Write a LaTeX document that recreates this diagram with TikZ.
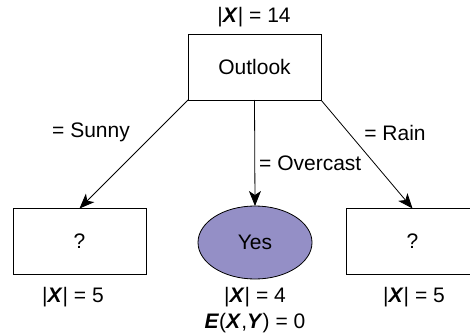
\documentclass[tikz,border=0pt]{standalone}
\usepackage{fontspec}
\setmainfont{Liberation Sans}
\usetikzlibrary{shapes.geometric,arrows.meta}
\definecolor{leafblue}{RGB}{148,143,198}
\newcommand{\bX}{\textbf{\textit{X}}}
\newcommand{\bY}{\textbf{\textit{Y}}}
\newcommand{\bE}{\textbf{\textit{E}}}
\begin{document}
\begin{tikzpicture}[
    x=1pt, y=-1pt,
    font=\fontsize{21}{25}\selectfont,
    box/.style={draw, line width=0.8pt, inner sep=0pt, outer sep=0pt, minimum width=133pt, minimum height=66pt},
    leaf/.style={draw, ellipse, line width=0.8pt, fill=leafblue, inner sep=0pt, outer sep=0pt, minimum width=114pt, minimum height=73pt},
    arrow/.style={-{Stealth[length=15pt, width=12pt, inset=4pt]}, line width=0.8pt},
    lbl/.style={inner sep=0pt}
]
    \useasboundingbox (0,0) rectangle (470,334);
    \node[box] (outlook) at (254.5, 67) {Outlook};
    \node[box] (sunny) at (79.5, 241.5) {?};
    \node[leaf] (overcast) at (255, 242.5) {Yes};
    \node[box] (rain) at (412.5, 241.5) {?};

    \draw[arrow] (outlook.south west) -- (sunny.north);
    \draw[arrow] (outlook.south) -- (overcast.north);
    \draw[arrow] (outlook.south east) -- (rain.north);

    % edge labels
    \node[lbl] (lsunny) at (91, 132) {= Sunny};
    \node[lbl, anchor=west] (lovercast) at (259, 163) {= Overcast};
    \node[lbl] (lrain) at (395, 133) {= Rain};

    % sizes
    \node[lbl] (n14) at (254, 17) {|\bX| = 14};
    \node[lbl] (n5a) at (73, 297) {|\bX| = 5};
    \node[lbl] (n4) at (255, 297) {|\bX| = 4};
    \node[lbl] (ent) at (255, 323) {\bE(\bX,\bY) = 0};
    \node[lbl] (n5b) at (414, 297) {|\bX| = 5};
\end{tikzpicture}
\end{document}
